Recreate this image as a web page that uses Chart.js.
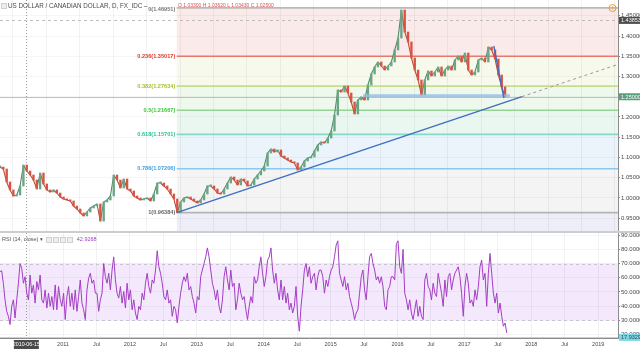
<!DOCTYPE html>
<html>
<head>
<meta charset="utf-8">
<script src="https://cdn.jsdelivr.net/npm/chart.js@4.4.1/dist/chart.umd.min.js"></script>
<style>
html,body{margin:0;padding:0;background:#fff;}
#wrap{position:relative;width:640px;height:352px;overflow:hidden;font-family:"Liberation Sans","DejaVu Sans",Arial,sans-serif;}
canvas{position:absolute;left:0;}
#sep{position:absolute;left:0;top:231px;width:640px;height:2px;background:#cdcdcd;}
.t{position:absolute;white-space:nowrap;line-height:1;}
.ic{display:inline-block;width:4px;height:4px;border:1px solid #cfcfcf;background:#eee;margin-right:1px;vertical-align:middle;}
</style>
</head>
<body>
<div id="wrap">
<canvas id="priceCanvas" width="640" height="231" style="top:0"></canvas>
<div id="sep"></div>
<canvas id="rsiCanvas" width="640" height="119" style="top:233px"></canvas>
<div class="t" id="title" style="left:1px;top:3px;font-size:6.3px;color:#4b4b4b;"></div>
<div class="t" id="ohlc" style="left:178px;top:3px;font-size:5px;color:#d9534f;"></div>
<div class="t" id="rsiLegend" style="left:2px;top:237px;font-size:5.5px;color:#555;"></div>
</div>
<script>
// ---------- data ----------
const symbolTitle = 'US DOLLAR / CANADIAN DOLLAR, D, FX_IDC';
const crossBarDate = '2010-06-15';
const crossBarOHLC = ['1.03300', '1.03620', '1.03430', '1.02500'];
const crossBarTime = 2010.452;

const priceStart = 2010.058;   // decimal year of first sample
const priceStep = 0.05;        // years between samples
const closes = [
 1.0765,1.0716,1.0395,1.0198,1.0049,1.0074,1.0296,1.0815,1.0667,1.0568,
 1.0444,1.0222,1.0617,1.0346,1.0198,1.0148,1.0198,1.0123,1.0025,0.9975,
 0.9951,0.9926,0.9802,0.9728,0.9630,0.9556,0.9654,0.9753,0.9802,0.9852,
 0.9430,0.9901,0.9951,1.0049,1.0568,1.0444,1.0247,1.0469,1.0222,1.0173,
 1.0049,1.0000,0.9951,0.9975,1.0000,0.9926,1.0099,1.0370,1.0370,1.0296,
 1.0222,1.0099,0.9975,0.9640,0.9901,1.0000,1.0025,0.9975,0.9926,0.9877,
 0.9951,1.0099,1.0296,1.0296,1.0222,1.0123,1.0099,1.0222,1.0370,1.0519,
 1.0444,1.0321,1.0469,1.0420,1.0296,1.0321,1.0469,1.0568,1.0667,1.0790,
 1.1111,1.1210,1.1136,1.1185,1.1037,1.0988,1.0938,1.0889,1.0864,1.0691,
 1.0765,1.0914,1.0988,1.1012,1.1160,1.1309,1.1383,1.1358,1.1481,1.1654,
 1.2049,1.2667,1.2617,1.2765,1.2592,1.2370,1.2074,1.2420,1.2494,1.2420,
 1.2790,1.3062,1.3234,1.3358,1.3259,1.3160,1.3259,1.3358,1.3654,1.3950,
 1.4642,1.4099,1.3852,1.3457,1.3160,1.2914,1.2543,1.2914,1.3136,1.3012,
 1.3111,1.3234,1.3012,1.3160,1.3259,1.3160,1.3407,1.3506,1.3358,1.3580,
 1.3160,1.3037,1.3111,1.3407,1.3457,1.3358,1.3728,1.3654,1.3432,1.3037,
 1.2741,1.2500
];

const rsiStart = 2010.058;
const rsiStep = 0.025;
const rsiValues = [
 64.3,64.9,56.1,44.4,36.3,32.8,27.0,39.8,44.4,31.6,44.4,56.1,70.0,
 66.6,56.1,60.7,49.1,44.4,61.9,49.1,54.9,42.1,57.3,51.4,61.9,44.4,42.1,51.4,38.6,49.1,39.8,46.7,37.4,
 54.9,37.4,53.8,44.4,39.8,49.1,30.5,46.7,53.8,39.8,49.1,37.4,51.4,36.3,46.7,58.4,42.1,37.4,30.5,51.4,
 59.6,63.1,56.1,58.4,49.1,49.1,36.3,44.4,49.1,70.0,60.7,56.1,63.1,51.4,65.4,74.7,58.4,49.1,45.6,53.8,
 42.1,50.3,38.6,56.1,44.4,51.4,37.4,44.4,35.1,30.5,39.8,37.4,49.1,44.4,56.1,63.1,53.8,49.1,58.4,56.1,
 65.4,79.0,67.7,63.1,56.1,46.7,44.4,51.4,42.1,44.4,32.8,39.8,37.4,28.1,39.8,49.1,56.1,60.7,57.3,63.1,
 51.4,53.8,46.7,42.1,35.1,46.7,44.4,60.7,65.4,70.0,74.7,81.0,74.7,65.4,56.1,51.4,44.4,51.4,39.8,35.1,
 44.4,60.7,67.7,58.4,51.4,65.4,53.8,56.1,37.4,44.4,56.1,49.1,44.4,46.7,37.4,30.5,39.8,46.7,42.1,60.7,
 56.1,58.4,67.7,74.7,63.1,53.8,60.7,72.4,74.7,81.0,65.4,56.1,63.1,51.4,44.4,58.4,44.4,53.8,42.1,49.1,
 37.4,42.1,35.1,39.8,53.8,32.8,22.3,39.8,51.4,65.4,70.0,60.7,67.7,56.1,60.7,63.1,51.4,60.7,65.4,
 65.4,60.7,49.1,58.4,53.8,60.7,65.4,67.7,74.7,83.0,86.0,63.1,58.4,53.8,60.7,51.4,56.1,46.7,42.1,37.4,
 30.5,35.1,37.4,49.1,60.7,65.4,51.4,44.4,60.7,74.7,77.1,70.0,65.4,58.4,60.7,56.1,60.7,53.8,39.8,37.4,
 51.4,53.8,60.7,60.7,58.4,84.0,86.0,67.7,63.1,80.0,49.1,44.4,37.4,44.4,35.1,30.5,37.4,44.4,32.8,39.8,
 32.8,30.5,58.4,63.1,53.8,51.4,44.4,56.1,49.1,46.7,63.1,56.1,49.1,39.8,58.4,46.7,60.7,63.1,51.4,58.4,
 63.1,65.4,67.7,60.7,49.1,32.8,53.8,63.1,56.1,42.1,44.4,39.8,51.4,44.4,53.8,67.7,72.4,58.4,63.1,39.8,
 63.1,77.1,63.1,49.1,42.1,49.1,35.1,42.1,32.8,25.8,28.1,21.1
];
const rsiLast = 17.9329;
const rsiLegendValue = '42.9268';

const lastPrice = 1.25;
const markedPrice = 1.43853;

const fibRatios = [0, 0.236, 0.382, 0.5, 0.618, 0.786, 1];
const fibPrices = [1.46951, 1.35017, 1.27634, 1.21667, 1.15701, 1.07206, 0.96384];
const fibStartTime = 2012.70;

const trendStart = {x: 2012.70, y: 0.96384};
const trendEnd   = {x: 2017.86, y: 1.2502};
const trendExt   = {x: 2019.296, y: 1.330};
const dropLine   = [{x: 2017.44, y: 1.3753}, {x: 2017.59, y: 1.2469}];
const supportLine = [{x: 2015.485, y: 1.2525}, {x: 2017.68, y: 1.2525}];

const priceTicks = [0.95, 1.00, 1.05, 1.10, 1.15, 1.20, 1.25, 1.30, 1.35, 1.40, 1.45];
const rsiTicks = [20, 30, 40, 50, 60, 70, 80, 90];
const timeTickLabels = ['Jul','2011','Jul','2012','Jul','2013','Jul','2014','Jul','2015','Jul','2016','Jul','2017','Jul','2018','Jul','2019'];
const firstTimeTick = 2010.5;

// ---------- layout constants ----------
const X_MIN = 2010.058, X_MAX = 2019.296;
const P_MIN = 0.9185, P_MAX = 1.4889;
const R_MIN = 17.5, R_MAX = 91.5;
const FONT = '"Liberation Sans","DejaVu Sans",Arial,sans-serif';

const fibLine  = ['#b9b9b9','#e6786d','#c6dc8e','#93d493','#86d8c5','#8cc8ee','#b4b4b4'];
const fibText  = ['#777777','#e0382c','#a4c236','#3fc43f','#2dbf97','#3d9fe0','#666666'];
const fibBand  = ['#fbeaea','#f6f9eb','#eef8ed','#eaf7f1','#ebf4fa','#f4f4f4','#eeeef9'];

const timeTickValues = timeTickLabels.map((_, i) => firstTimeTick + 0.5 * i);

document.getElementById('title').innerHTML = '<span class="ic"></span>' + symbolTitle + ' &ndash;';
document.getElementById('ohlc').textContent =
  'O ' + crossBarOHLC[0] + ' H ' + crossBarOHLC[1] + ' L ' + crossBarOHLC[2] + ' C ' + crossBarOHLC[3];
document.getElementById('rsiLegend').innerHTML =
  'RSI (14, close) &#9662; &nbsp;<span class="ic"></span><span class="ic"></span><span class="ic"></span><span class="ic"></span>&nbsp; <span style="color:#a23cc2">' + rsiLegendValue + '</span>';

function axisBox(chart, yPix, text, bg, fg) {
  const ctx = chart.ctx;
  const left = chart.chartArea.right + 1;
  ctx.save();
  ctx.fillStyle = bg;
  ctx.fillRect(left, yPix - 3.5, chart.width - left, 7);
  ctx.fillStyle = fg;
  ctx.font = '5.5px ' + FONT;
  ctx.textBaseline = 'middle';
  ctx.textAlign = 'left';
  ctx.fillText(text, left + 2, yPix + 0.3);
  ctx.restore();
}

function hLine(ctx, x1, x2, y, color, width, dash) {
  ctx.save();
  ctx.strokeStyle = color; ctx.lineWidth = width; ctx.setLineDash(dash || []);
  ctx.beginPath(); ctx.moveTo(x1, y); ctx.lineTo(x2, y); ctx.stroke();
  ctx.restore();
}

function crossLine(chart) {
  const ctx = chart.ctx, a = chart.chartArea;
  const x = Math.round(chart.scales.x.getPixelForValue(crossBarTime)) + 0.5;
  ctx.save();
  ctx.strokeStyle = '#9a9a9a'; ctx.lineWidth = 1; ctx.setLineDash([1, 2]);
  ctx.beginPath(); ctx.moveTo(x, a.top); ctx.lineTo(x, a.bottom); ctx.stroke();
  ctx.restore();
}

const pricePlugin = {
  id: 'fib',
  beforeDraw(chart) {
    const ctx = chart.ctx, a = chart.chartArea, xs = chart.scales.x, ys = chart.scales.y;
    const x0 = xs.getPixelForValue(fibStartTime);
    ctx.save();
    for (let i = 0; i < fibPrices.length; i++) {
      const yTop = ys.getPixelForValue(fibPrices[i]);
      const yBot = i + 1 < fibPrices.length ? ys.getPixelForValue(fibPrices[i + 1]) : a.bottom;
      ctx.fillStyle = fibBand[i];
      ctx.fillRect(x0, yTop, a.right - x0, yBot - yTop);
    }
    ctx.restore();
  },
  beforeDatasetsDraw(chart) {
    const ctx = chart.ctx, a = chart.chartArea, xs = chart.scales.x, ys = chart.scales.y;
    const x0 = xs.getPixelForValue(fibStartTime);
    hLine(ctx, a.left, a.right, Math.round(ys.getPixelForValue(markedPrice)) + 0.5, '#bdbdbd', 1, [3, 3]);
    for (let i = 0; i < fibPrices.length; i++) {
      const y = ys.getPixelForValue(fibPrices[i]);
      hLine(ctx, x0, a.right, y, fibLine[i], 1.6);
      ctx.save();
      ctx.font = '600 5.6px ' + FONT;
      ctx.fillStyle = fibText[i];
      ctx.textAlign = 'right';
      ctx.textBaseline = 'middle';
      const ly = i === 0 ? y + 2 : y;
      ctx.fillText(String(fibRatios[i]) + '(' + fibPrices[i].toFixed(5) + ')', x0 - 1.5, ly);
      ctx.restore();
    }
    hLine(ctx, a.left, a.right, Math.round(ys.getPixelForValue(lastPrice)) + 0.5, '#b1c9bb', 1);
    crossLine(chart);
  },
  afterDraw(chart) {
    const ys = chart.scales.y;
    axisBox(chart, ys.getPixelForValue(markedPrice), markedPrice.toFixed(5), '#4d4d4d', '#ffffff');
    axisBox(chart, ys.getPixelForValue(lastPrice), lastPrice.toFixed(5), '#5c9f7f', '#ffffff');
    const ctx = chart.ctx;
    ctx.save();
    ctx.strokeStyle = '#f39a2a'; ctx.lineWidth = 1;
    ctx.beginPath(); ctx.arc(612.5, 8, 3.5, 0, Math.PI * 2); ctx.stroke();
    ctx.fillStyle = '#f39a2a'; ctx.font = 'bold 5px ' + FONT; ctx.textAlign = 'center'; ctx.textBaseline = 'middle';
    ctx.fillText('!', 612.5, 8.3);
    ctx.restore();
  }
};

const times = closes.map((_, i) => priceStart + i * priceStep);
const closePoints = closes.map((c, i) => ({x: times[i], y: c}));
const candles = closes.map((c, i) => ({x: times[i], y: [i ? closes[i - 1] : c, c]}));
const candleColors = closes.map((c, i) => (i > 0 && c < closes[i - 1]) ? '#d75442' : '#6ba583');

const yAxisFit = s => { s.width = 22; s.paddingTop = 0; s.paddingBottom = 0; };

new Chart(document.getElementById('priceCanvas'), {
  type: 'bar',
  data: {
    datasets: [
      {type: 'line', data: closePoints, borderWidth: 1.1, pointRadius: 0, tension: 0, order: 6,
       segment: {borderColor: c => c.p1.parsed.y < c.p0.parsed.y ? '#b94a3c' : '#4f8a68'}},
      {type: 'bar', data: candles, backgroundColor: candleColors, barThickness: 1.7, grouped: false, minBarLength: 1.2, order: 5},
      {type: 'line', data: [trendStart, trendEnd], borderColor: '#3f6ec2', borderWidth: 1.4, pointRadius: 0, order: 1},
      {type: 'line', data: [trendEnd, trendExt], borderColor: '#9a9a9a', borderWidth: 1, borderDash: [3, 3], pointRadius: 0, order: 1},
      {type: 'line', data: supportLine, borderColor: 'rgba(150,188,225,0.8)', borderWidth: 3, pointRadius: 0, order: 2},
      {type: 'line', data: dropLine, borderColor: '#3f6ec2', borderWidth: 1.4, pointRadius: 0, order: 1}
    ]
  },
  options: {
    responsive: false, animation: false, events: [],
    layout: {padding: 0},
    plugins: {legend: {display: false}, tooltip: {enabled: false}},
    scales: {
      x: {
        type: 'linear', min: X_MIN, max: X_MAX, offset: false,
        afterBuildTicks: s => { s.ticks = timeTickValues.map(v => ({value: v})); },
        ticks: {display: false},
        grid: {color: 'rgba(0,0,0,0.05)', drawTicks: false},
        border: {display: false},
        afterFit: s => { s.height = 0; s.paddingLeft = 0; s.paddingRight = 0; }
      },
      y: {
        position: 'right', min: P_MIN, max: P_MAX,
        afterBuildTicks: s => { s.ticks = priceTicks.map(v => ({value: v})); },
        ticks: {callback: v => v.toFixed(5), font: {size: 6, family: FONT}, color: '#4a4a4a', padding: 1},
        grid: {color: 'rgba(0,0,0,0.035)', tickLength: 2, tickColor: '#8a8a8a'},
        border: {color: '#8c8c8c'},
        afterFit: yAxisFit
      }
    }
  },
  plugins: [pricePlugin]
});

new Chart(document.getElementById('rsiCanvas'), {
  type: 'line',
  data: {
    datasets: [{
      data: rsiValues.map((v, i) => ({x: rsiStart + i * rsiStep, y: v})),
      borderColor: '#a43ec4', borderWidth: 1, pointRadius: 0, tension: 0
    }]
  },
  options: {
    responsive: false, animation: false, events: [],
    layout: {padding: 0},
    plugins: {legend: {display: false}, tooltip: {enabled: false}},
    scales: {
      x: {
        type: 'linear', min: X_MIN, max: X_MAX, offset: false,
        afterBuildTicks: s => { s.ticks = timeTickValues.map(v => ({value: v})); },
        ticks: {autoSkip: false, maxRotation: 0, callback: (v, i) => timeTickLabels[i], font: {size: 5.5, family: FONT}, color: '#4a4a4a', padding: 3},
        grid: {color: 'rgba(0,0,0,0.05)', drawTicks: false},
        border: {color: '#8c8c8c'},
        afterFit: s => { s.height = 14; s.paddingLeft = 0; s.paddingRight = 0; }
      },
      y: {
        position: 'right', min: R_MIN, max: R_MAX,
        afterBuildTicks: s => { s.ticks = rsiTicks.map(v => ({value: v})); },
        ticks: {callback: v => v.toFixed(4), font: {size: 6, family: FONT}, color: '#4a4a4a', padding: 1},
        grid: {color: 'rgba(0,0,0,0.035)', tickLength: 2, tickColor: '#8a8a8a'},
        border: {color: '#8c8c8c'},
        afterFit: yAxisFit
      }
    }
  },
  plugins: [
    {
      id: 'rsiBand',
      beforeDraw(chart) {
        const ctx = chart.ctx, a = chart.chartArea, ys = chart.scales.y;
        const y70 = ys.getPixelForValue(70), y30 = ys.getPixelForValue(30);
        ctx.save();
        ctx.fillStyle = '#f4e8fc';
        ctx.fillRect(a.left, y70, a.right - a.left, y30 - y70);
        ctx.restore();
      },
      beforeDatasetsDraw(chart) {
        const ctx = chart.ctx, a = chart.chartArea, ys = chart.scales.y;
        hLine(ctx, a.left, a.right, Math.round(ys.getPixelForValue(70)) + 0.5, '#cbc3d2', 1, [3, 3]);
        hLine(ctx, a.left, a.right, Math.round(ys.getPixelForValue(30)) + 0.5, '#cbc3d2', 1, [3, 3]);
        hLine(ctx, a.left, a.right, Math.round(ys.getPixelForValue(rsiLast)) + 0.5, '#9fe0ea', 1);
        crossLine(chart);
      },
      afterDraw(chart) {
        axisBox(chart, chart.scales.y.getPixelForValue(rsiLast), rsiLast.toFixed(4), '#7fd6e4', '#24505a');
        const ctx = chart.ctx, a = chart.chartArea;
        const x = chart.scales.x.getPixelForValue(crossBarTime);
        ctx.save();
        ctx.fillStyle = '#4a4a4a';
        ctx.fillRect(x - 12.5, a.bottom + 2, 25, 9);
        ctx.fillStyle = '#fff';
        ctx.font = '5.3px ' + FONT; ctx.textAlign = 'center'; ctx.textBaseline = 'middle';
        ctx.fillText(crossBarDate, x, a.bottom + 6.8);
        ctx.restore();
      }
    }
  ]
});
</script>
</body>
</html>
